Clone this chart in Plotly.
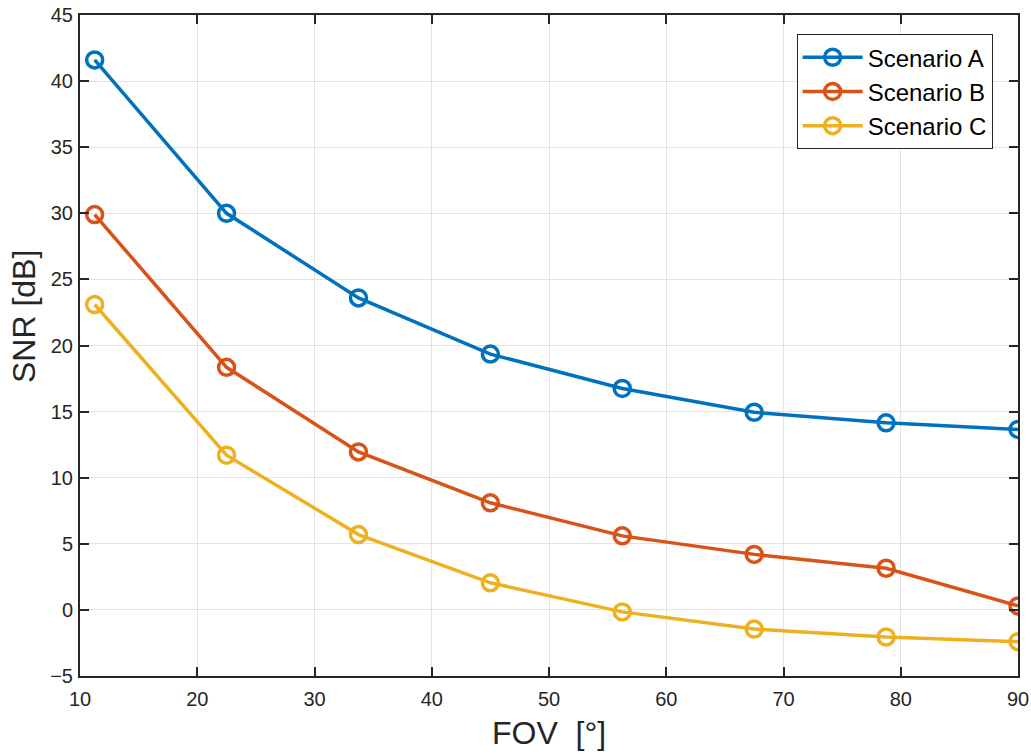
import plotly.graph_objects as go

fov = [11.25, 22.5, 33.75, 45, 56.25, 67.5, 78.75, 90]
snr_a = [41.6, 30.0, 23.6, 19.35, 16.75, 14.95, 14.15, 13.65]
snr_b = [29.9, 18.35, 11.95, 8.1, 5.6, 4.2, 3.15, 0.3]
snr_c = [23.1, 11.7, 5.7, 2.05, -0.15, -1.45, -2.05, -2.4]
names = ["Scenario A", "Scenario B", "Scenario C"]
colors = ["#0072BD", "#D95319", "#EDB120"]

x_ticks = [10, 20, 30, 40, 50, 60, 70, 80, 90]
y_ticks = [-5, 0, 5, 10, 15, 20, 25, 30, 35, 40, 45]

FONT = "Liberation Sans, Arial, sans-serif"
INK = "#262626"

fig = go.Figure()
for name, ys, col in zip(names, [snr_a, snr_b, snr_c], colors):
    fig.add_trace(go.Scatter(
        x=fov, y=ys, name=name, mode="lines+markers",
        line=dict(color=col, width=3.5),
        marker=dict(symbol="circle-open", size=16, color=col, line=dict(width=3.5, color=col)),
    ))

axis_common = dict(
    showline=True, linecolor=INK, linewidth=2, mirror="ticks",
    ticks="inside", ticklen=9, tickwidth=2, tickcolor=INK,
    showgrid=True, gridcolor="#e3e3e3", gridwidth=1, zeroline=False,
    automargin=False,
    tickfont=dict(family=FONT, size=20, color=INK),
)

fig.update_layout(
    width=1031, height=756,
    margin=dict(l=80, r=13, t=15, b=80),
    paper_bgcolor="white", plot_bgcolor="white",
    xaxis=dict(range=[10, 90], tickvals=x_ticks, ticklabelstandoff=4, **axis_common),
    yaxis=dict(range=[-5, 45], tickvals=y_ticks, ticklabelstandoff=1, **axis_common),
    legend=dict(x=0.764, y=0.971, xanchor="left", yanchor="top",
                bgcolor="white", bordercolor=INK, borderwidth=1,
                font=dict(family=FONT, size=24, color="#000000"),
                itemwidth=60),
    showlegend=True,
    annotations=[
        dict(text="FOV\u00a0 [°]", xref="paper", yref="paper", x=0.5, y=0,
             xanchor="center", yanchor="middle", yshift=-57, showarrow=False,
             font=dict(family=FONT, size=32, color=INK)),
        dict(text="SNR [dB]", xref="paper", yref="paper", x=0, y=0.543,
             xanchor="center", yanchor="middle", xshift=-56, textangle=-90,
             showarrow=False, font=dict(family=FONT, size=32, color=INK)),
    ],
)

fig.write_html("out.html")
